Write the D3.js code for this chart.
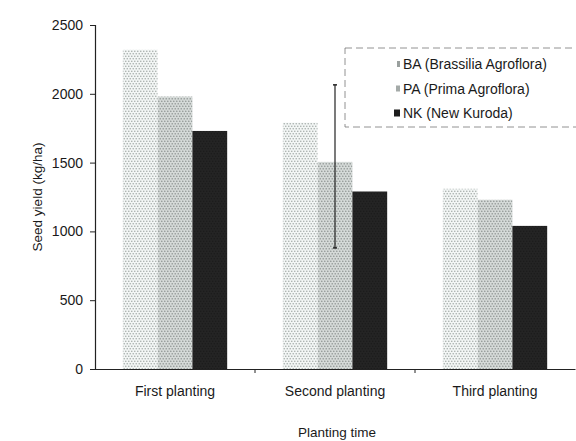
<!DOCTYPE html>
<html>
<head>
<meta charset="utf-8">
<script src="https://cdn.jsdelivr.net/npm/d3@7"></script>
<style>
  html, body { margin: 0; padding: 0; background: #fff; }
  svg { display: block; font-family: "Liberation Sans", Arial, sans-serif; }
</style>
</head>
<body>
<svg id="chart" width="576" height="441"></svg>
<script>
// Seed yield by planting time for three soybean varieties
const categories = ["First planting", "Second planting", "Third planting"];
const seriesNames = ["BA (Brassilia Agroflora)", "PA (Prima Agroflora)", "NK (New Kuroda)"];
const seriesKeys = ["BA", "PA", "NK"];
const baValues = [2320, 1790, 1310];
const paValues = [1980, 1505, 1230];
const nkValues = [1730, 1290, 1040];
// error range shown on PA, second planting: [low, high]
const paErrorRange = [null, [880, 2065], null];
const yTicks = [0, 500, 1000, 1500, 2000, 2500];

const values = { BA: baValues, PA: paValues, NK: nkValues };
const rows = categories.map((c, i) => ({
  category: c,
  bars: seriesKeys.map(k => ({ key: k, value: values[k][i], err: k === "PA" ? paErrorRange[i] : null }))
}));

const svg = d3.select("#chart");
const margin = { left: 95, right: 1, top: 25, bottom: 72 };
const W = 576, H = 441;

const x = d3.scaleBand().domain(categories).range([margin.left, W - margin.right]).paddingInner(0).paddingOuter(0);
const xs = d3.scaleBand().domain(seriesKeys).range([0, x.bandwidth()]).paddingInner(0).paddingOuter(0.8);
const y = d3.scaleLinear().domain([0, 2500]).range([H - margin.bottom, margin.top]);

// Staggered dot fill patterns
const defs = svg.append("defs");
function dotPattern(id, bg, dot, r) {
  const p = defs.append("pattern").attr("id", id).attr("patternUnits", "userSpaceOnUse")
    .attr("width", 3).attr("height", 5);
  p.append("rect").attr("width", 3).attr("height", 5).attr("fill", bg);
  p.append("circle").attr("cx", 0.75).attr("cy", 1.25).attr("r", r).attr("fill", dot);
  p.append("circle").attr("cx", 2.25).attr("cy", 3.75).attr("r", r).attr("fill", dot);
  return `url(#${id})`;
}
const fills = {
  BA: dotPattern("patBA", "#f3f6f5", "#a3aaa8", 0.8),
  PA: dotPattern("patPA", "#d5dad8", "#989e9c", 0.85),
  NK: dotPattern("patNK", "#242424", "#1a1a1a", 0.8)
};

// Bars
const g = svg.append("g");
const groups = g.selectAll("g.grp").data(rows).join("g")
  .attr("transform", d => `translate(${x(d.category)},0)`);
groups.selectAll("rect").data(d => d.bars).join("rect")
  .attr("x", d => xs(d.key))
  .attr("width", xs.bandwidth())
  .attr("y", d => y(d.value))
  .attr("height", d => y(0) - y(d.value))
  .attr("fill", d => fills[d.key]);

// Error bar
groups.selectAll("g.err").data(d => d.bars.filter(b => b.err)).join("g").attr("class", "err")
  .each(function (d) {
    const cx = xs(d.key) + xs.bandwidth() / 2;
    const s = d3.select(this);
    s.append("line").attr("x1", cx).attr("x2", cx).attr("y1", y(d.err[0])).attr("y2", y(d.err[1]))
      .attr("stroke", "#222").attr("stroke-width", 1.2);
    [d.err[0], d.err[1]].forEach(v => s.append("line")
      .attr("x1", cx - 2).attr("x2", cx + 2).attr("y1", y(v)).attr("y2", y(v))
      .attr("stroke", "#222").attr("stroke-width", 1.5));
  });

// Y axis
const yAxis = svg.append("g").attr("transform", `translate(${margin.left},0)`)
  .call(d3.axisLeft(y).tickValues(yTicks).tickFormat(d3.format("d")).tickSize(5).tickPadding(7));
yAxis.select(".domain").attr("stroke", "#222").attr("stroke-width", 1.2);
yAxis.selectAll(".tick line").attr("stroke", "#222");
yAxis.selectAll("text").attr("font-size", 14).attr("fill", "#1a1a1a");

// X axis
const xAxis = svg.append("g").attr("transform", `translate(0,${y(0)})`)
  .call(d3.axisBottom(x).tickSize(0).tickPadding(17));
xAxis.select(".domain").attr("stroke", "#222").attr("stroke-width", 1.2);
xAxis.selectAll("text").attr("font-size", 14).attr("fill", "#1a1a1a");
// tick marks between groups
svg.append("g").selectAll("line").data(categories.slice(1)).join("line")
  .attr("x1", d => x(d)).attr("x2", d => x(d))
  .attr("y1", y(0)).attr("y2", y(0) + 4).attr("stroke", "#222");

// Axis titles
svg.append("text").attr("transform", `translate(42,${(y(0) + y(2500)) / 2}) rotate(-90)`)
  .attr("text-anchor", "middle").attr("font-size", 13.5).attr("fill", "#1a1a1a").text("Seed yield (kg/ha)");
svg.append("text").attr("x", 337).attr("y", 437).attr("text-anchor", "middle")
  .attr("font-size", 13.5).attr("fill", "#1a1a1a").text("Planting time");

// Legend
const lg = svg.append("g").attr("transform", "translate(345,48)");
lg.append("rect").attr("width", 232).attr("height", 79).attr("fill", "#fff")
  .attr("stroke", "#777").attr("stroke-dasharray", "7,4").attr("stroke-width", 0.8);
const legendMarks = [
  { w: 3, h: 6, fill: "#9aa09e" },
  { w: 4, h: 6, fill: "#a4aaa8" },
  { w: 6, h: 7, fill: "#1c1c1c" }
];
seriesNames.forEach((name, i) => {
  const cy = 16 + i * 24.5;
  const m = legendMarks[i];
  lg.append("rect").attr("x", 55 - m.w).attr("y", cy - m.h / 2).attr("width", m.w).attr("height", m.h)
    .attr("fill", m.fill);
  lg.append("text").attr("x", 58).attr("y", cy + 5).attr("font-size", 14).attr("fill", "#1a1a1a").text(name);
});
</script>
</body>
</html>
